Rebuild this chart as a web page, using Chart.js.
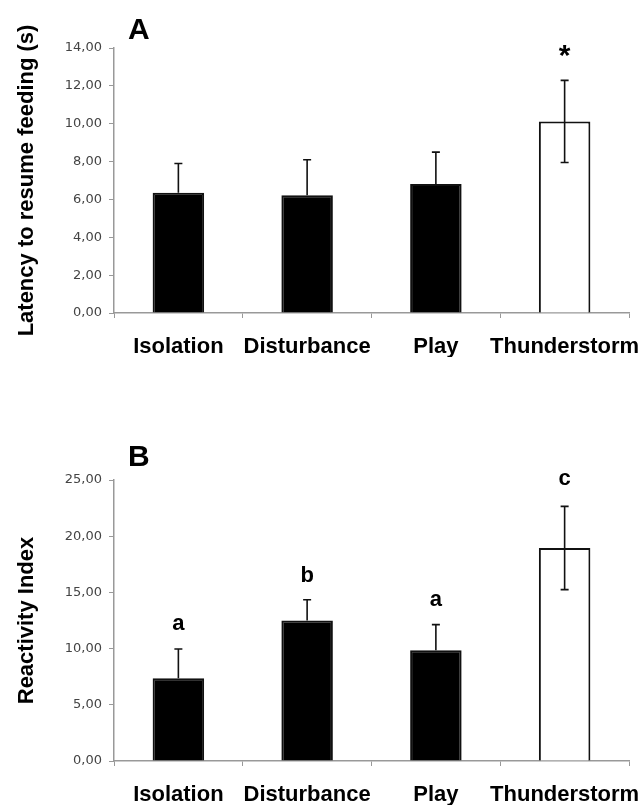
<!DOCTYPE html>
<html>
<head>
<meta charset="utf-8">
<script src="https://cdn.jsdelivr.net/npm/chart.js@4.4.1/dist/chart.umd.min.js"></script>
<style>
  body { margin: 0; background: #fff; }
  .painel { position: relative; width: 643px; }
</style>
</head>
<body>
<div class="painel" style="height: 395px"><canvas id="chartA"></canvas></div>
<div class="painel" style="height: 410px"><canvas id="chartB"></canvas></div>
<script>
var categorias = ["Isolation", "Disturbance", "Play", "Thunderstorm"];
var coresBarras = ["#000000", "#000000", "#000000", "#ffffff"];

// Painel A - latência (s)
var latenciaMedias = [6.35, 6.22, 6.82, 10.12];
var latenciaErros = [1.55, 1.88, 1.68, 2.17];
var latenciaMarcas = ["", "", "", "*"];
var latenciaNiveisMarcas = [0, 0, 0, 13.55];

// Painel B - índice de reatividade
var reatividadeMedias = [7.36, 12.5, 9.85, 18.95];
var reatividadeErros = [2.6, 1.85, 2.28, 3.7];
var reatividadeMarcas = ["a", "b", "a", "c"];
var reatividadeNiveisMarcas = [12.2, 16.5, 14.3, 25.1];

var fonte = "'Liberation Sans', Arial, sans-serif";

function formatarVirgula(value) {
  return value.toFixed(2).replace(".", ",");
}

function criarGrafico(idCanvas, info) {
  var extras = {
    id: "extras_" + idCanvas,
    afterDatasetsDraw: function (chart) {
      var ctx = chart.ctx;
      var x = chart.scales.x;
      var y = chart.scales.y;
      var area = chart.chartArea;

      ctx.save();
      // barras de erro
      ctx.strokeStyle = "#111";
      ctx.lineWidth = 1.6;
      for (var i = 0; i < info.medias.length; i++) {
        var px = x.getPixelForValue(i);
        var meio = y.getPixelForValue(info.medias[i]);
        var topo = y.getPixelForValue(info.medias[i] + info.erros[i]);
        var base = y.getPixelForValue(info.medias[i] - info.erros[i]);
        ctx.beginPath();
        ctx.moveTo(px, meio);
        ctx.lineTo(px, topo);
        ctx.moveTo(px - 4, topo);
        ctx.lineTo(px + 4, topo);
        // parte de baixo só aparece na barra branca
        if (coresBarras[i] == "#ffffff") {
          ctx.moveTo(px, meio);
          ctx.lineTo(px, base);
          ctx.moveTo(px - 4, base);
          ctx.lineTo(px + 4, base);
        }
        ctx.stroke();
      }

      // letras / asterisco de significância
      ctx.fillStyle = "#000";
      ctx.textAlign = "center";
      ctx.textBaseline = "middle";
      ctx.font = info.fonteMarcas;
      for (var j = 0; j < info.marcas.length; j++) {
        if (!info.marcas[j]) continue;
        ctx.fillText(
          info.marcas[j],
          x.getPixelForValue(j),
          y.getPixelForValue(info.niveis[j])
        );
      }

      // letra do painel
      ctx.font = "bold 30px " + fonte;
      ctx.textAlign = "left";
      ctx.fillText(info.letra, area.left + 14, info.letraY);

      // título do eixo y
      ctx.font = "bold 22px " + fonte;
      ctx.translate(27, (area.top + area.bottom) / 2);
      ctx.rotate(-Math.PI / 2);
      ctx.textAlign = "center";
      ctx.fillText(info.tituloY, 0, 0);
      ctx.restore();
    },
  };

  return new Chart(document.getElementById(idCanvas), {
    type: "bar",

    data: {
      labels: categorias,

      datasets: [
        {
          data: info.medias,
          backgroundColor: coresBarras,
          borderColor: "#111111",
          borderWidth: 2,
          borderSkipped: "bottom",
          barPercentage: 0.4,
          categoryPercentage: 1,
        },
      ],
    },

    options: {
      responsive: true,
      maintainAspectRatio: false,
      animation: false,

      layout: {
        padding: { top: info.padTopo, right: 14, bottom: info.padBase, left: 0 },
      },

      plugins: {
        legend: { display: false },
        tooltip: { enabled: false },
      },

      scales: {
        x: {
          afterFit: function (scale) {
            scale.height = 44;
            // rótulo "Thunderstorm" pode passar da borda do eixo
            scale.paddingLeft = 0;
            scale.paddingRight = 0;
          },
          border: { color: "#999", width: 1.5 },
          grid: {
            offset: true,
            drawOnChartArea: false,
            tickLength: 5,
            color: "#999",
          },
          ticks: {
            color: "#000",
            padding: 16,
            autoSkip: false,
            maxRotation: 0,
            minRotation: 0,
            font: {
              family: fonte,
              size: 22,
              weight: "bold",
            },
          },
        },

        y: {
          min: 0,
          max: info.maximo,
          afterFit: function (scale) {
            scale.width = 114;
          },
          border: { color: "#999", width: 1.5 },
          grid: {
            drawOnChartArea: false,
            tickLength: 5,
            color: "#999",
          },
          ticks: {
            stepSize: info.passo,
            color: "#444",
            padding: 7,
            font: { family: "'DejaVu Sans', sans-serif", size: 13 },
            callback: function (value) {
              return formatarVirgula(value);
            },
          },
        },
      },
    },

    plugins: [extras],
  });
}

criarGrafico("chartA", {
  medias: latenciaMedias,
  erros: latenciaErros,
  marcas: latenciaMarcas,
  niveis: latenciaNiveisMarcas,
  fonteMarcas: "bold 30px " + fonte,
  letra: "A",
  letraY: 31,
  tituloY: "Latency to resume feeding (s)",
  maximo: 14,
  passo: 2,
  padTopo: 48,
  padBase: 38,
});

criarGrafico("chartB", {
  medias: reatividadeMedias,
  erros: reatividadeErros,
  marcas: reatividadeMarcas,
  niveis: reatividadeNiveisMarcas,
  fonteMarcas: "bold 22px " + fonte,
  letra: "B",
  letraY: 63,
  tituloY: "Reactivity Index",
  maximo: 25,
  passo: 5,
  padTopo: 85,
  padBase: 0,
});
</script>
</body>
</html>
